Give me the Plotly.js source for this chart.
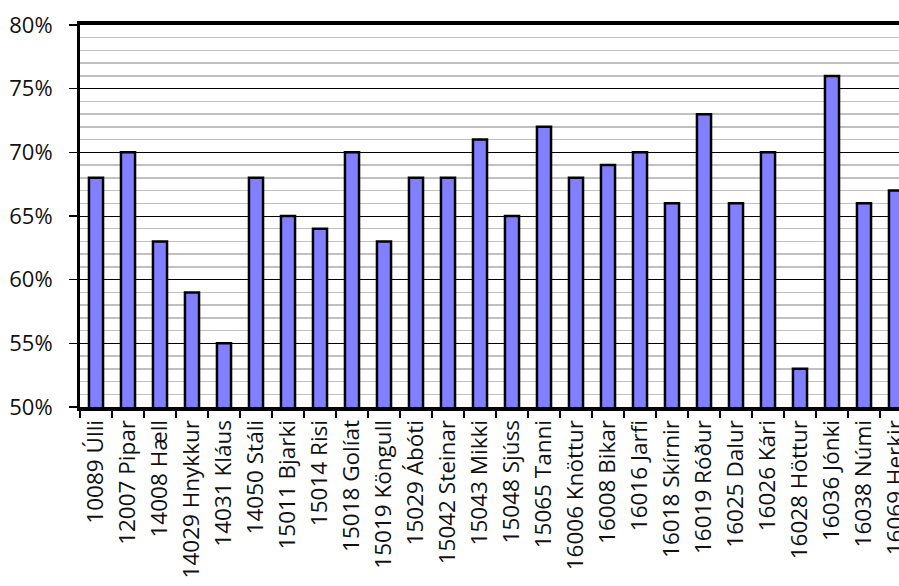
<!DOCTYPE html>
<html>
<head>
<meta charset="utf-8">
<script src="https://cdn.plot.ly/plotly-3.0.1.min.js"></script>
<style>
html,body{margin:0;padding:0;overflow:hidden;background:#fff;width:899px;height:586px;}
#chart{width:912px;height:586px;}
</style>
</head>
<body>
<div id="chart"></div>
<script>
const categories = ["10089 Úlli","12007 Pipar","14008 Hæll","14029 Hnykkur","14031 Kláus","14050 Stáli","15011 Bjarki","15014 Risi","15018 Golíat","15019 Köngull","15029 Ábóti","15042 Steinar","15043 Mikki","15048 Sjúss","15065 Tanni","16006 Knöttur","16008 Bikar","16016 Jarfi","16018 Skírnir","16019 Róður","16025 Dalur","16026 Kári","16028 Höttur","16036 Jónki","16038 Númi","16069 Herkir"];
const values = [68,70,63,59,55,68,65,64,70,63,68,68,71,65,72,68,69,70,66,73,66,70,53,76,66,67];

const font = "'Open Sans', sans-serif";

const trace = {
  type: 'bar',
  x: categories,
  y: values,
  base: 0,
  marker: {color: '#8080ff', line: {color: '#000', width: 2.5}},
  width: 0.44,
  hoverinfo: 'x+y'
};

const layout = {
  width: 912, height: 586,
  margin: {l: 80, r: 0, t: 25, b: 179},
  paper_bgcolor: '#fff', plot_bgcolor: '#fff',
  showlegend: false,
  xaxis: {
    type: 'category',
    range: [-0.5, 25.5],
    showgrid: false,
    showline: true, linecolor: '#000', linewidth: 4, mirror: true,
    ticks: 'outside', tickson: 'boundaries', ticklen: 7, tickwidth: 1.5, tickcolor: '#000',
    tickangle: -90,
    tickfont: {family: font, size: 22.5, color: '#111'},
    automargin: false,
    fixedrange: true
  },
  yaxis: {
    range: [50, 80],
    dtick: 5, tick0: 50,
    ticksuffix: '%',
    showgrid: true, gridcolor: '#000', gridwidth: 1,
    minor: {dtick: 1, showgrid: true, gridcolor: '#c0c0c0', gridwidth: 1.5, ticks: ''},
    showline: true, linecolor: '#000', linewidth: 3,
    ticks: 'outside', ticklen: 8, tickwidth: 1.5, tickcolor: '#000',
    ticklabelstandoff: 12,
    tickfont: {family: font, size: 22, color: '#111'},
    zeroline: false,
    automargin: false,
    fixedrange: true
  }
};

Plotly.newPlot('chart', [trace], layout, {displayModeBar: false, staticPlot: true});
</script>
</body>
</html>
